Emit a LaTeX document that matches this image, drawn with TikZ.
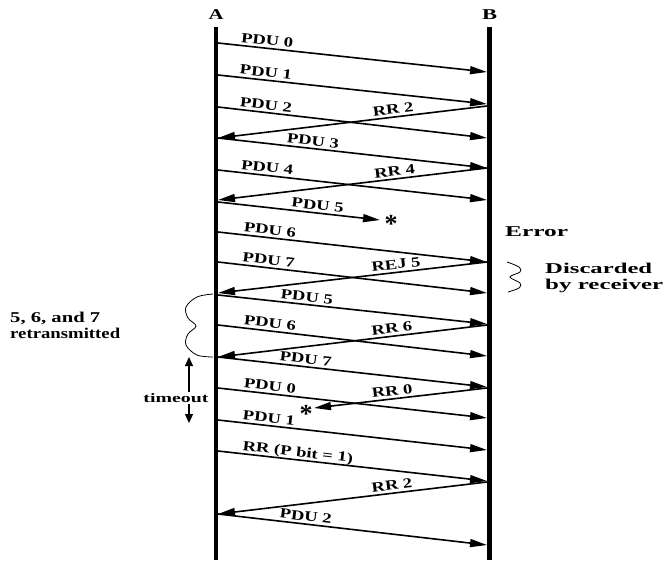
\documentclass[tikz,border=0pt]{standalone}
\usepackage{fontspec}
\setmainfont{Liberation Serif}
\usepackage{graphicx}
\usetikzlibrary{arrows.meta}
\newcommand{\wtxt}[2]{\resizebox{#1pt}{\height}{#2}}
\newcommand{\lbx}[1]{\scalebox{1.33}[1]{#1}}
\begin{document}
\begin{tikzpicture}[x=1pt,y=-1pt,
  life/.style={line width=4.3pt},
  msg/.style={line width=1.6pt, -{Triangle[length=17pt,width=8pt]}},
  msgl/.style={line width=1.6pt, {Triangle[length=17pt,width=8pt]}-},
  lbl/.style={sloped, above=2.5pt, inner sep=0pt, text depth=0pt, font=\fontsize{14}{14}\selectfont\bfseries},
  bracestyle/.style={line width=0.8pt},
  starnode/.style={inner sep=0pt, anchor=base, font=\fontsize{26}{26}\selectfont\bfseries},
  note/.style={anchor=north west, align=left, inner sep=0pt, font=\fontsize{15}{15.5}\selectfont\bfseries}
]
\useasboundingbox (0,0) rectangle (669,560);

% lifelines
\node[inner sep=0pt, font=\fontsize{15}{15}\selectfont\bfseries] (A) at (216,15) {\wtxt{15}{A}};
\node[inner sep=0pt, font=\fontsize{15}{15}\selectfont\bfseries] (B) at (489.5,15) {\wtxt{15}{B}};
\coordinate (Atop) at (216,27); \coordinate (Abot) at (216,560);
\coordinate (Btop) at (489.5,27); \coordinate (Bbot) at (489.5,560);

% message end points
\coordinate (a1) at (218,43);  \coordinate (b1) at (487,72);
\coordinate (a2) at (218,75);  \coordinate (b2) at (487,104);
\coordinate (a3) at (218,107); \coordinate (b3) at (487,138);
\coordinate (a4) at (218,138); \coordinate (b4) at (487,106);
\coordinate (a5) at (218,138); \coordinate (b5) at (487,168);
\coordinate (a6) at (218,170); \coordinate (b6) at (487,200);
\coordinate (a7) at (218,200); \coordinate (b7) at (487,168);
\coordinate (a8) at (218,202); \coordinate (b8) at (380,220);
\coordinate (a9) at (218,232); \coordinate (b9) at (487,262);
\coordinate (a10) at (218,262); \coordinate (b10) at (487,293);
\coordinate (a11) at (218,293); \coordinate (b11) at (487,262);
\coordinate (a12) at (218,295); \coordinate (b12) at (487,324);
\coordinate (a13) at (218,325); \coordinate (b13) at (487,356);
\coordinate (a14) at (218,357); \coordinate (b14) at (487,325);
\coordinate (a15) at (218,357); \coordinate (b15) at (487,387);
\coordinate (a16) at (218,388); \coordinate (b16) at (487,418);
\coordinate (a17) at (314,408); \coordinate (b17) at (487,388);
\coordinate (a18) at (218,420); \coordinate (b18) at (487,450);
\coordinate (a19) at (218,451); \coordinate (b19) at (487,481);
\coordinate (a20) at (218,514); \coordinate (b20) at (487,482);
\coordinate (a21) at (218,514); \coordinate (b21) at (487,545);

\draw[msg]  (a1) -- node[lbl,pos=.18]{\lbx{PDU 0}} (b1);
\draw[msg]  (a2) -- node[lbl,pos=.175]{\lbx{PDU 1}} (b2);
\draw[msg]  (a3) -- node[lbl,pos=.175]{\lbx{PDU 2}} (b3);
\draw[msgl] (a4) -- node[lbl,pos=.654]{\lbx{RR 2}} (b4);
\draw[msg]  (a5) -- node[lbl,pos=.35]{\lbx{PDU 3}} (b5);
\draw[msg]  (a6) -- node[lbl,pos=.18]{\lbx{PDU 4}} (b6);
\draw[msgl] (a7) -- node[lbl,pos=.66]{\lbx{RR 4}} (b7);
\draw[msg]  (a8) -- node[lbl,pos=.61]{\lbx{PDU 5}} (b8);
\draw[msg]  (a9) -- node[lbl,pos=.19]{\lbx{PDU 6}} (b9);
\draw[msg]  (a10) -- node[lbl,pos=.185]{\lbx{PDU 7}} (b10);
\draw[msgl] (a11) -- node[lbl,pos=.665]{\lbx{REJ 5}} (b11);
\draw[msg]  (a12) -- node[lbl,pos=.327]{\lbx{PDU 5}} (b12);
\draw[msg]  (a13) -- node[lbl,pos=.19]{\lbx{PDU 6}} (b13);
\draw[msgl] (a14) -- node[lbl,pos=.65]{\lbx{RR 6}} (b14);
\draw[msg]  (a15) -- node[lbl,pos=.323]{\lbx{PDU 7}} (b15);
\draw[msg]  (a16) -- node[lbl,pos=.19]{\lbx{PDU 0}} (b16);
\draw[msgl] (a17) -- node[lbl,pos=.457]{\lbx{RR 0}} (b17);
\draw[msg]  (a18) -- node[lbl,pos=.186]{\lbx{PDU 1}} (b18);
\draw[msg]  (a19) -- node[lbl,pos=.294]{\lbx{RR (P bit = 1)}} (b19);
\draw[msgl] (a20) -- node[lbl,pos=.65]{\lbx{RR 2}} (b20);
\draw[msg]  (a21) -- node[lbl,pos=.323]{\lbx{PDU 2}} (b21);

\draw[life] (Atop) -- (Abot);
\draw[life] (Btop) -- (Bbot);

% lost frames
\node[starnode] (s1) at (391,232) {*};
\node[starnode] (s2) at (306,422) {*};

% right side notes
\node[anchor=west, inner sep=0pt, font=\fontsize{15}{15}\selectfont\bfseries] (err) at (505,232) {\wtxt{63}{Error}};
\draw[bracestyle] plot[smooth, tension=0.6] coordinates {(507,262) (519,267) (520,272) (510,277) (520,283) (519,288) (508,292)};
\node[note] (disc) at (545,263) {\wtxt{107}{Discarded}\\\wtxt{118}{by receiver}};

% left side notes
\draw[bracestyle] plot[smooth, tension=0.6] coordinates {(213,294) (197,297) (186,307) (188,318) (196,326) (188,334) (186,345) (197,355) (213,357)};
\node[note] (retx) at (10,312) {\wtxt{90}{5, 6, and 7}\\\wtxt{110}{retransmitted}};

\coordinate (t1) at (189,357); \coordinate (t2) at (189,423);
\draw[line width=1.3pt, {Triangle[length=9pt,width=8pt]}-{Triangle[length=9pt,width=8pt]}] (t1) -- (t2);
\node[fill=white, inner sep=1pt, font=\fontsize{13}{13}\selectfont\bfseries] (to) at (176,398) {\wtxt{65}{timeout}};
\end{tikzpicture}
\end{document}
